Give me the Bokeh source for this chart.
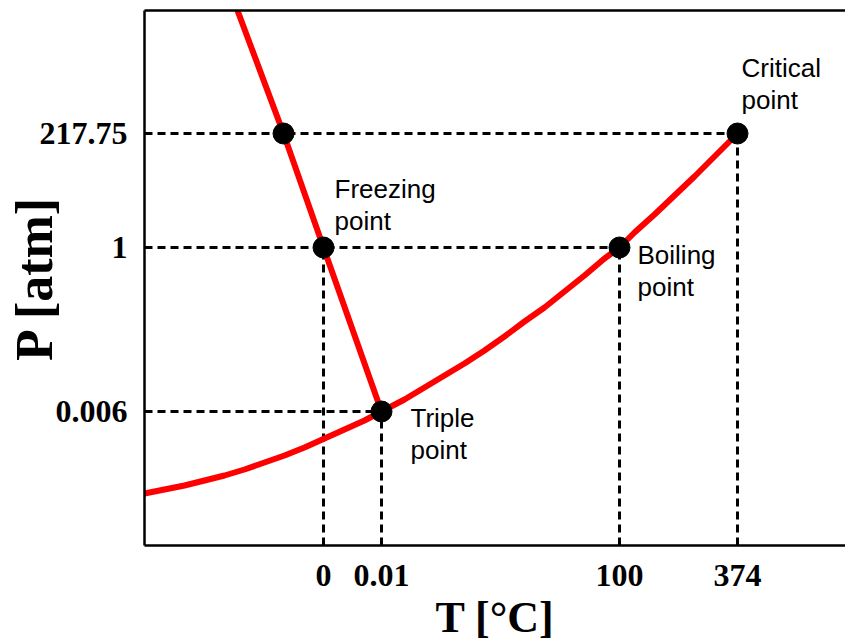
from bokeh.plotting import figure
from bokeh.models import Range1d, FixedTicker, LinearAxis, ColumnDataSource
from bokeh.core.properties import value
from bokeh.embed import file_html
from bokeh.resources import INLINE

# ---- data (schematic axis positions) ----
t_tick_pos = [179, 237, 475, 593]
t_tick_labels = ["0", "0.01", "100", "374"]
p_tick_pos = [134, 298, 412]
p_tick_labels = ["0.006", "1", "217.75"]

# marked points
pt_x = [593, 475, 179, 237, 139]
pt_y = [412, 298, 298, 134, 412]

# points that get a horizontal guide to the P axis
h_guide_x = [593, 475, 237]
h_guide_y = [412, 298, 134]
# points that get a vertical guide to the T axis
v_guide_x = [179, 237, 475, 593]
v_guide_y = [298, 134, 298, 412]

# melting (solid-liquid) line
melt_x = [237, 179, 139, 93]
melt_y = [134, 298, 412, 535]

# vaporization / sublimation curve
vap_x = [0, 20, 40, 60, 80, 100, 120, 140, 160, 180, 200, 220, 237, 260, 280, 300,
         320, 340, 360, 380, 400, 420, 440, 460, 475, 490, 510, 530, 550, 570, 593]
vap_y = [52, 56, 60, 65, 70, 76, 83, 90, 98, 107, 116, 125, 134, 146, 158, 170,
         182, 195, 209, 224, 238, 254, 270, 287, 298, 313, 331, 350, 369, 389, 412]

# annotation texts
ann_line1 = ["Critical", "Freezing", "Boiling", "Triple"]
ann_line2 = ["point", "point", "point", "point"]
# layout: anchor (top-left) of each annotation
ann_x = [597, 190, 493, 266]
ann_y = [493, 372, 306, 143]
LINE_GAP = 32

p = figure(width=845, height=644, output_backend="svg", toolbar_location=None,
           x_range=Range1d(0, 701), y_range=Range1d(0, 535),
           min_border_left=144, min_border_right=0, min_border_top=10,
           min_border_bottom=99, outline_line_color=None,
           background_fill_color="white", border_fill_color="white")
p.xgrid.visible = False
p.ygrid.visible = False

serif = "Liberation Serif"

for ax in (p.xaxis[0], p.yaxis[0]):
    ax.axis_line_width = 2.5
    ax.axis_line_color = "black"
    ax.major_tick_out = 0
    ax.major_tick_in = 0
    ax.minor_tick_out = 0
    ax.minor_tick_in = 0
    ax.major_label_text_font = serif
    ax.major_label_text_font_style = "bold"
    ax.major_label_text_font_size = "32px"
    ax.major_label_text_color = "black"
    ax.axis_label_text_font = serif
    ax.axis_label_text_font_style = "bold"
    ax.axis_label_text_color = "black"

p.xaxis[0].ticker = FixedTicker(ticks=t_tick_pos)
p.xaxis[0].major_label_overrides = {float(k): v for k, v in zip(t_tick_pos, t_tick_labels)}
p.xaxis[0].major_label_standoff = 19
p.xaxis[0].axis_label = "T [°C]"
p.xaxis[0].axis_label_text_font_size = "44px"
p.xaxis[0].axis_label_standoff = 4

p.yaxis[0].ticker = FixedTicker(ticks=p_tick_pos)
p.yaxis[0].major_label_overrides = {float(k): v for k, v in zip(p_tick_pos, p_tick_labels)}
p.yaxis[0].major_label_standoff = 17
p.yaxis[0].major_label_orientation = "horizontal"
p.yaxis[0].axis_label = "P [atm]"
p.yaxis[0].axis_label_text_font_size = "52px"
p.yaxis[0].axis_label_standoff = -26

top_axis = LinearAxis(ticker=FixedTicker(ticks=[]), axis_line_width=2.5,
                      axis_line_color="black", major_tick_out=0, major_tick_in=0,
                      minor_tick_out=0, minor_tick_in=0,
                      major_label_text_font_size="0px")
p.add_layout(top_axis, "above")

# dashed guides
zeros_h = [0] * len(h_guide_x)
p.segment(x0=zeros_h, y0=h_guide_y, x1=h_guide_x, y1=h_guide_y,
          line_color="black", line_width=3, line_dash="8 5")
zeros_v = [0] * len(v_guide_x)
p.segment(x0=v_guide_x, y0=zeros_v, x1=v_guide_x, y1=v_guide_y,
          line_color="black", line_width=3, line_dash="8 5")

# phase boundaries
p.line(vap_x, vap_y, line_color="#ff0000", line_width=6, line_join="round")
p.line(melt_x, melt_y, line_color="#ff0000", line_width=6, line_join="round")

# points
p.scatter(pt_x, pt_y, size=21, fill_color="black", line_color="black")

# annotations
src = ColumnDataSource(dict(x=ann_x, y=ann_y, t1=ann_line1, t2=ann_line2,
                            y2=[v - LINE_GAP for v in ann_y]))
p.text(x="x", y="y", text="t1", source=src, text_font=value("Liberation Sans"),
       text_font_size="26px", text_baseline="top", text_align="left", text_color="black")
p.text(x="x", y="y2", text="t2", source=src, text_font=value("Liberation Sans"),
       text_font_size="26px", text_baseline="top", text_align="left", text_color="black")

open("out.html", "w").write(file_html(p, INLINE))
